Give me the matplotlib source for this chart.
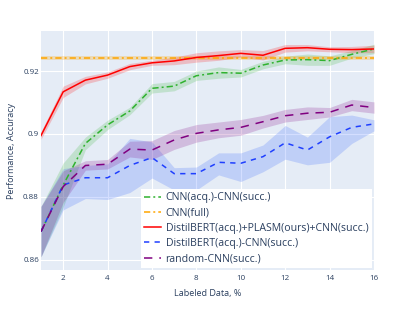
import numpy as np
import matplotlib
matplotlib.use("Agg")
import matplotlib.pyplot as plt

plt.rcParams['font.family'] = ['Open Sans', 'DejaVu Sans']
plt.rcParams['lines.scale_dashes'] = False

# ---------------- data ----------------
labeled = [1, 2, 3, 4, 5, 6, 7, 8, 9, 10, 11, 12, 13, 14, 15, 16]

cnn_cnn = [0.869, 0.8838, 0.897, 0.9029, 0.9073, 0.9145, 0.9152, 0.9185,
           0.9195, 0.9193, 0.9219, 0.9235, 0.9236, 0.9233, 0.9253, 0.9270]
cnn_cnn_std = [0.008, 0.007, 0.002, 0.0015, 0.0012, 0.0015, 0.0015, 0.0015,
               0.0018, 0.0012, 0.0012, 0.0012, 0.0018, 0.0015, 0.0012, 0.0015]

cnn_full = 0.9241
cnn_full_std = 0.0006

plasm = [0.8995, 0.9134, 0.9171, 0.9187, 0.9214, 0.9226, 0.9232, 0.9243,
         0.9249, 0.9256, 0.9250, 0.9272, 0.9274, 0.9269, 0.9268, 0.9270]
plasm_std = [0.0012, 0.0018, 0.0012, 0.001, 0.001, 0.0008, 0.0012, 0.0015,
             0.0015, 0.0012, 0.0015, 0.0012, 0.001, 0.0008, 0.001, 0.0012]

bert_cnn = [0.869, 0.8838, 0.8861, 0.8861, 0.8900, 0.8925, 0.8874, 0.8874,
            0.8910, 0.8907, 0.8928, 0.8972, 0.8949, 0.8991, 0.9021, 0.9032]
bert_cnn_lo = [0.861, 0.8759, 0.8795, 0.8792, 0.8814, 0.8860, 0.8822, 0.8822,
               0.8870, 0.8849, 0.8880, 0.8920, 0.8902, 0.8910, 0.8970, 0.9010]
bert_cnn_hi = [0.877, 0.8890, 0.8900, 0.8905, 0.8986, 0.8975, 0.8893, 0.8895,
               0.8940, 0.8940, 0.8965, 0.9027, 0.8990, 0.9055, 0.9060, 0.9045]

random_cnn = [0.869, 0.8833, 0.8900, 0.8904, 0.8952, 0.8949, 0.8981, 0.9002,
              0.9013, 0.9021, 0.9039, 0.9058, 0.9066, 0.9069, 0.9092, 0.9084]
random_cnn_std = [0.008, 0.005, 0.0015, 0.0015, 0.0025, 0.003, 0.003, 0.0028,
                  0.0025, 0.0025, 0.002, 0.002, 0.002, 0.0015, 0.0018, 0.0018]

# ---------------- plot ----------------
fig = plt.figure(figsize=(4.15, 3.12), dpi=100)
ax = fig.add_axes([0.0988, 0.1346, 0.8024, 0.766])
ax.set_facecolor('#E5ECF6')

x = np.array(labeled)
lw = 1.1

def band(y, s, color, alpha=0.2):
    y = np.array(y); s = np.array(s)
    ax.fill_between(x, y - s, y + s, color=color, alpha=alpha, lw=0)

band(cnn_cnn, cnn_cnn_std, '#32b432')
ax.plot(x, cnn_cnn, color='#2fb22f', lw=lw, dashes=(4.5, 2.2, 1.4, 2.2),
        label='CNN(acq.)-CNN(succ.)')

ax.fill_between([1, 16], cnn_full - cnn_full_std, cnn_full + cnn_full_std,
                color='orange', alpha=0.25, lw=0)
ax.plot([1, 16], [cnn_full, cnn_full], color='orange', lw=lw,
        dashes=(4.5, 2.2, 1.4, 2.2), label='CNN(full)')

band(plasm, plasm_std, 'red')
ax.plot(x, plasm, color='red', lw=lw, label='DistilBERT(acq.)+PLASM(ours)+CNN(succ.)')

ax.fill_between(x, bert_cnn_lo, bert_cnn_hi, color='#2a5cff', alpha=0.2, lw=0)
ax.plot(x, bert_cnn, color='#1f3fff', lw=lw, dashes=(3.8, 3.8),
        label='DistilBERT(acq.)-CNN(succ.)')

band(random_cnn, random_cnn_std, 'purple')
ax.plot(x, random_cnn, color='purple', lw=lw, dashes=(6, 5),
        label='random-CNN(succ.)')

ax.set_xlim(1, 16)
ax.set_ylim(0.8568, 0.9327)
ax.set_xticks([2, 4, 6, 8, 10, 12, 14, 16])
ax.set_yticks([0.86, 0.88, 0.90, 0.92])
ax.set_yticklabels(['0.86', '0.88', '0.9', '0.92'])
ax.grid(True, color='white', lw=0.8)
ax.set_axisbelow(True)
for s in ax.spines.values():
    s.set_visible(False)
ax.tick_params(axis='y', length=0, labelsize=5.8, colors='#2a3f5f', pad=1.5)
ax.tick_params(axis='x', length=0, labelsize=5.8, colors='#2a3f5f', pad=3.5)

ax.set_xlabel('Labeled Data, %', fontsize=6.5, color='#2a3f5f', labelpad=5)
ax.set_ylabel('Performance, Accuracy', fontsize=6.5, color='#2a3f5f', labelpad=5)

leg = ax.legend(loc='lower right', bbox_to_anchor=(1.0, 0.0), fontsize=7.6,
                frameon=True, fancybox=False, framealpha=1.0, edgecolor='white',
                handlelength=1.6, handletextpad=0.4, labelspacing=0.4,
                borderpad=0.35, borderaxespad=0.2)
leg.get_frame().set_linewidth(0)
for t in leg.get_texts():
    t.set_color('#2a3f5f')

fig.savefig('out.png', dpi=100)
